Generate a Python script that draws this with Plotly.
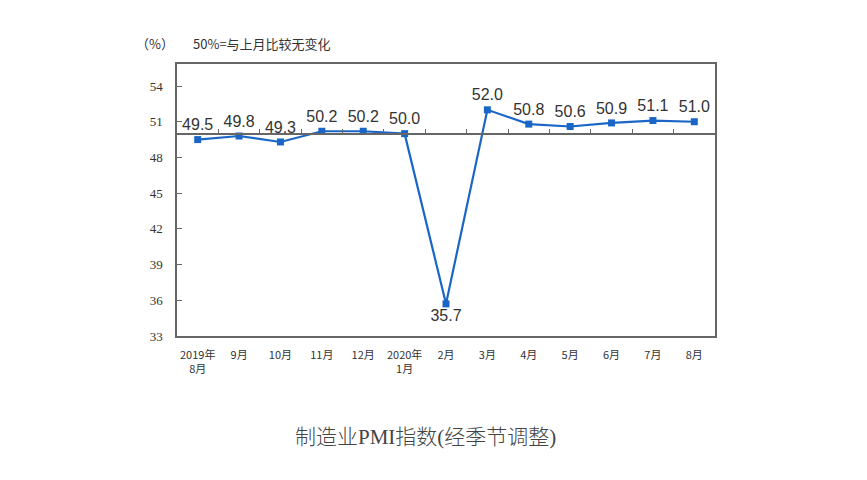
import plotly.graph_objects as go

categories = ["2019年<br>8月", "9月", "10月", "11月", "12月", "2020年<br>1月",
              "2月", "3月", "4月", "5月", "6月", "7月", "8月"]
pmi = [49.5, 49.8, 49.3, 50.2, 50.2, 50.0, 35.7, 52.0, 50.8, 50.6, 50.9, 51.1, 51.0]
y_ticks = [33, 36, 39, 42, 45, 48, 51, 54]
baseline = 50
y_range = [33, 55.85]

W, H = 867, 480
ML, MR, MT, MB = 177, 152, 64, 144
PW, PH = W - ML - MR, H - MT - MB


def px_x(x):
    return (x - ML) / PW


def px_y(y):
    return (H - MB - y) / PH


x_idx = list(range(len(categories)))
positions = ["bottom center" if v < baseline - 5 else "top center" for v in pmi]
line_color = "#1a66c6"

fig = go.Figure()
fig.add_trace(go.Scatter(
    x=x_idx, y=pmi, mode="lines+markers+text",
    line=dict(color=line_color, width=2.2),
    marker=dict(symbol="square", size=7, color=line_color),
    text=[f"{v:.1f}" for v in pmi], textposition=positions,
    textfont=dict(family="Liberation Sans, Arial", size=16, color="#333333"),
    cliponaxis=False, showlegend=False,
))

pos50 = (baseline - y_range[0]) / (y_range[1] - y_range[0])

fig.update_layout(
    width=W, height=H,
    margin=dict(l=ML, r=MR, t=MT, b=MB),
    paper_bgcolor="white", plot_bgcolor="white",
    xaxis=dict(range=[-0.5, len(categories) - 0.5], tickmode="array",
               tickvals=x_idx, ticktext=categories, showgrid=False, zeroline=False,
               showline=True, linecolor="#666666", linewidth=1.5, mirror=True,
               ticks="", ticklabelstandoff=8,
               tickfont=dict(family="Noto Sans CJK SC", size=11, color="#333333")),
    xaxis2=dict(range=[-0.5, len(categories) - 0.5], overlaying="x", anchor="free",
                position=pos50, side="top", tickmode="array",
                tickvals=[i + 0.5 for i in x_idx[:-1]], showticklabels=False,
                ticks="outside", ticklen=4, tickcolor="#666666", tickwidth=1,
                showline=True, linecolor="#666666", linewidth=1.5,
                showgrid=False, zeroline=False),
    yaxis=dict(range=y_range, tickmode="array", tickvals=y_ticks,
               showgrid=False, zeroline=False, showline=True, linecolor="#666666",
               linewidth=1.5, mirror=True, ticks="inside", ticklen=5,
               tickcolor="#666666", ticklabelstandoff=10,
               tickfont=dict(family="Liberation Serif, Times New Roman", size=13,
                             color="#333333")),
)

# invisible trace so xaxis2 renders
fig.add_trace(go.Scatter(x=[None], y=[None], xaxis="x2", showlegend=False,
                         hoverinfo="skip"))

fig.add_annotation(x=px_x(155), y=px_y(43), xref="paper", yref="paper",
                   text="（%）", showarrow=False, xanchor="center", yanchor="middle",
                   font=dict(family="Noto Sans CJK SC", size=13, color="#333333"))
fig.add_annotation(x=px_x(191), y=px_y(43), xref="paper", yref="paper",
                   text="50%=与上月比较无变化", showarrow=False, xanchor="left",
                   yanchor="middle",
                   font=dict(family="Noto Sans CJK SC", size=13, color="#333333"))
fig.add_annotation(x=px_x(425), y=px_y(437), xref="paper", yref="paper",
                   text="制造业PMI指数(经季节调整)", showarrow=False,
                   xanchor="center", yanchor="middle",
                   font=dict(family="Liberation Serif, Noto Sans CJK SC", size=21,
                             color="#444444", weight=300))

fig.write_html("out.html")
